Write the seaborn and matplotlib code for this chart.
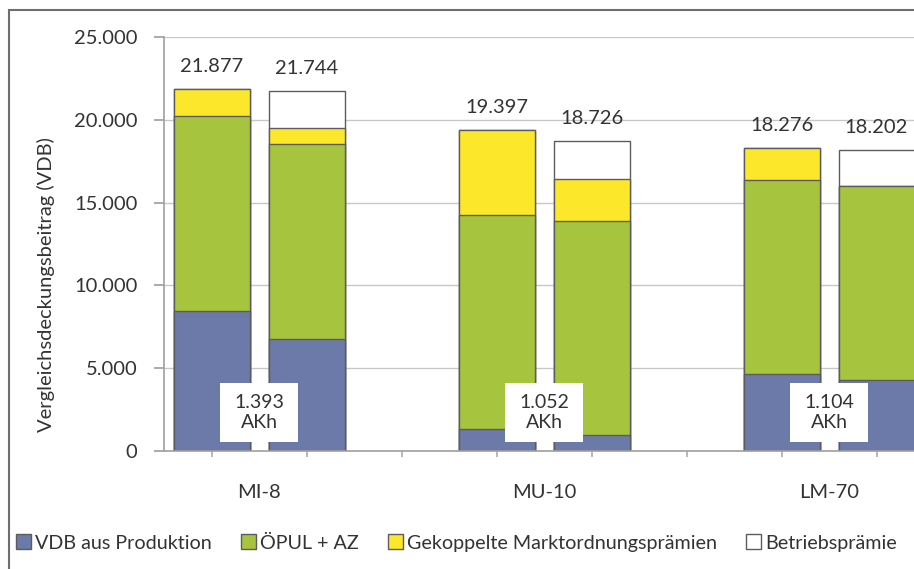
import numpy as np
import pandas as pd
import matplotlib.pyplot as plt
import seaborn as sns
from matplotlib.patches import Patch, Rectangle

# Data
groups = ["MI-8", "MU-10", "LM-70"]
akh_labels = ["1.393", "1.052", "1.104"]
vdb_produktion = [8450, 6760, 1350, 950, 4630, 4270]
oepul_az = [11780, 11760, 12880, 12920, 11720, 11710]
gekoppelt = [1647, 970, 5167, 2580, 1926, 0]
betriebspraemie = [0, 2254, 0, 2276, 0, 2222]
totals = [21877, 21744, 19397, 18726, 18276, 18202]

series_names = ["VDB aus Produktion", "ÖPUL + AZ",
                "Gekoppelte Marktordnungsprämien", "Betriebsprämie"]
colors = ["#6b7aa8", "#a6c43e", "#fce72b", "#ffffff"]
text_col = "#333333"
edge_col = "#5c5c5c"
fs = 14.5

# two bars per group, one empty slot between groups
xpos = [3 * g + k for g in range(len(groups)) for k in range(2)]
df = pd.DataFrame({
    "x": xpos,
    "vdb": vdb_produktion,
    "oepul": oepul_az,
    "gek": gekoppelt,
    "bp": betriebspraemie,
})
df["c1"] = df["vdb"]
df["c2"] = df["c1"] + df["oepul"]
df["c3"] = df["c2"] + df["gek"]
df["c4"] = df["c3"] + df["bp"]

sns.set_theme(style="white")
plt.rcParams["font.family"] = ["Lato", "DejaVu Sans"]

fig = plt.figure(figsize=(9.14, 5.69), dpi=100)
ax = fig.add_axes([164 / 914, 1 - 451 / 569, 855 / 914, 414 / 569])

# stacked bars: draw cumulative totals from the top layer down
for col, c in zip(["c4", "c3", "c2", "c1"], colors[::-1]):
    sns.barplot(data=df, x="x", y=col, native_scale=True, color=c,
                saturation=1, errorbar=None, width=0.8,
                edgecolor=edge_col, linewidth=1.0, ax=ax, zorder=2)

# total labels on top of bars
for x, t in zip(df["x"], totals):
    ax.annotate(f"{t:,}".replace(",", "."), (x, t), xytext=(0, 10),
                textcoords="offset points", ha="center", va="bottom",
                fontsize=fs, color=text_col)

# AKh boxes in the middle of each group
for g, lab in enumerate(akh_labels):
    gc = 3 * g + 0.5
    ax.add_patch(Rectangle((gc - 0.415, 530), 0.83, 3560, facecolor="white",
                           edgecolor="none", zorder=4))
    ax.text(gc, 2330, f"{lab}\nAKh", ha="center", va="center",
            fontsize=fs - 0.5, color=text_col, linespacing=1.2, zorder=5)

ax.set_xlim(-0.5, 8.5)
ax.set_ylim(0, 25000)
ax.set_yticks(np.arange(0, 25001, 5000))
ax.set_yticklabels([f"{v:,}".replace(",", ".") for v in range(0, 25001, 5000)])
ax.yaxis.grid(True, color="#c8c8c8", linewidth=1.0, zorder=0)
ax.set_axisbelow(True)

ax.set_xticks(range(0, 9))
ax.set_xticklabels([])
ax.set_xticks([3 * g + 0.5 for g in range(len(groups))], minor=True)
ax.set_xticklabels(groups, minor=True)
ax.tick_params(axis="x", which="major", length=4, color="#b0b0b0",
               direction="out", bottom=True)
ax.tick_params(axis="x", which="minor", length=0, pad=24,
               labelsize=fs, labelcolor=text_col)
ax.tick_params(axis="y", length=7, color="#a0a0a0", direction="out",
               left=True, pad=12, labelsize=fs, labelcolor=text_col)

for s in ["top", "right"]:
    ax.spines[s].set_visible(False)
for s in ["left", "bottom"]:
    ax.spines[s].set_color("#a0a0a0")
    ax.spines[s].set_linewidth(1.2)
ax.set_xlabel("")
ax.set_ylabel("")

fig.text(46 / 914, 1 - 285 / 569, "Vergleichsdeckungsbeitrag (VDB)",
         rotation=90, ha="center", va="center", fontsize=fs, color=text_col)

# outer frame (cut off on the right and bottom like the reference)
fig.patches.append(Rectangle((9 / 914, -0.2), 2, 1.2 - 10 / 569,
                             transform=fig.transFigure, fill=False,
                             edgecolor="#6e6e6e", linewidth=1.5))

handles = [Patch(facecolor=c, edgecolor=edge_col, linewidth=1.0) for c in colors]
fig.legend(handles, series_names, loc="center left",
           bbox_to_anchor=(8 / 914, 1 - 543 / 569), ncol=4, frameon=False,
           fontsize=fs - 0.3, handlelength=0.75, handleheight=0.75,
           handletextpad=0.2, columnspacing=1.5, borderaxespad=0,
           labelcolor=text_col)

fig.savefig("out.png", dpi=100)
